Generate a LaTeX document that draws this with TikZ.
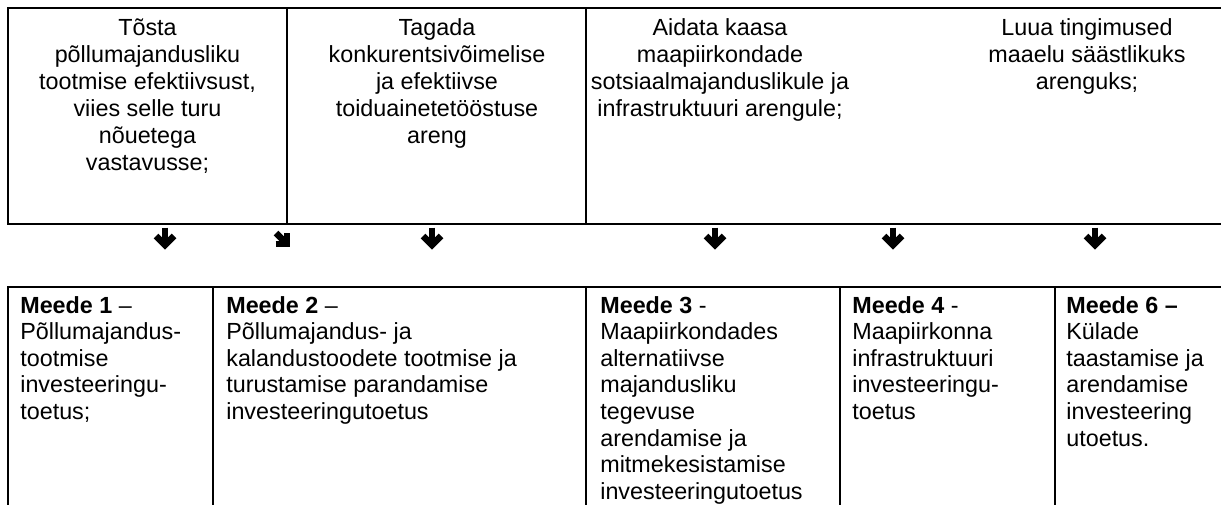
\documentclass[tikz,border=0pt]{standalone}
\usepackage{fontspec}
\setmainfont{Liberation Sans}
\begin{document}
\begin{tikzpicture}[x=0.6pt,y=-0.6pt,
  frame/.style={line width=1.2pt},
  toptext/.style={anchor=north,align=center,inner sep=0pt,font=\fontsize{14}{16.2}\selectfont},
  cell/.style={anchor=north west,align=left,inner sep=0pt,font=\fontsize{14}{15.95}\selectfont},
  warr/.pic={\draw[line width=3.9pt] (0,-11)--(0,5);
             \draw[line width=3.9pt,line join=miter] (-9,-2.5)--(0,6.5)--(9,-2.5);}]
\clip (0,0) rectangle (1221,505);
\fill[white] (0,0) rectangle (1221,505);
% top row of boxes
\draw[frame] (1240,8) -- (8,8) -- (8,224) -- (1240,224);
\draw[frame] (287,8) -- (287,224);
\draw[frame] (586,8) -- (586,224);
\node[toptext] (t1) at (147.5,18) {Tõsta\\põllumajandusliku\\tootmise efektiivsust,\\viies selle turu\\nõuetega\\vastavusse;};
\node[toptext] (t2) at (437,18) {Tagada\\konkurentsivõimelise\\ja efektiivse\\toiduainetetööstuse\\areng};
\node[toptext] (t3) at (720,18) {Aidata kaasa\\maapiirkondade\\sotsiaalmajanduslikule ja\\infrastruktuuri arengule;};
\node[toptext] (t4) at (1087,18) {Luua tingimused\\maaelu säästlikuks\\arenguks;};
% arrows
\pic (a1) at (165,238.5) {warr};
\pic[rotate=45,scale=0.9] (a2) at (283,240) {warr};
\pic (a3) at (432,238.5) {warr};
\pic (a4) at (715,238.5) {warr};
\pic (a5) at (893,238.5) {warr};
\pic (a6) at (1095,238.5) {warr};
% bottom table
\draw[frame] (1240,287) -- (8,287) -- (8,520);
\draw[frame] (213,287) -- (213,520);
\draw[frame] (586,287) -- (586,520);
\draw[frame] (840,287) -- (840,520);
\draw[frame] (1055,287) -- (1055,520);
\node[cell] (m1) at (20,296) {\textbf{Meede 1} –\\Põllumajandus-\\tootmise\\investeeringu-\\toetus;};
\node[cell] (m2) at (226,296) {\textbf{Meede 2} –\\Põllumajandus- ja\\kalandustoodete tootmise ja\\turustamise parandamise\\investeeringutoetus};
\node[cell] (m3) at (600,296) {\textbf{Meede 3} -\\Maapiirkondades\\alternatiivse\\majandusliku\\tegevuse\\arendamise ja\\mitmekesistamise\\investeeringutoetus};
\node[cell] (m4) at (852,296) {\textbf{Meede 4} -\\Maapiirkonna\\infrastruktuuri\\investeeringu-\\toetus};
\node[cell] (m5) at (1066,296) {\textbf{Meede 6 –}\\Külade\\taastamise ja\\arendamise\\investeering\\utoetus.};
\end{tikzpicture}
\end{document}
